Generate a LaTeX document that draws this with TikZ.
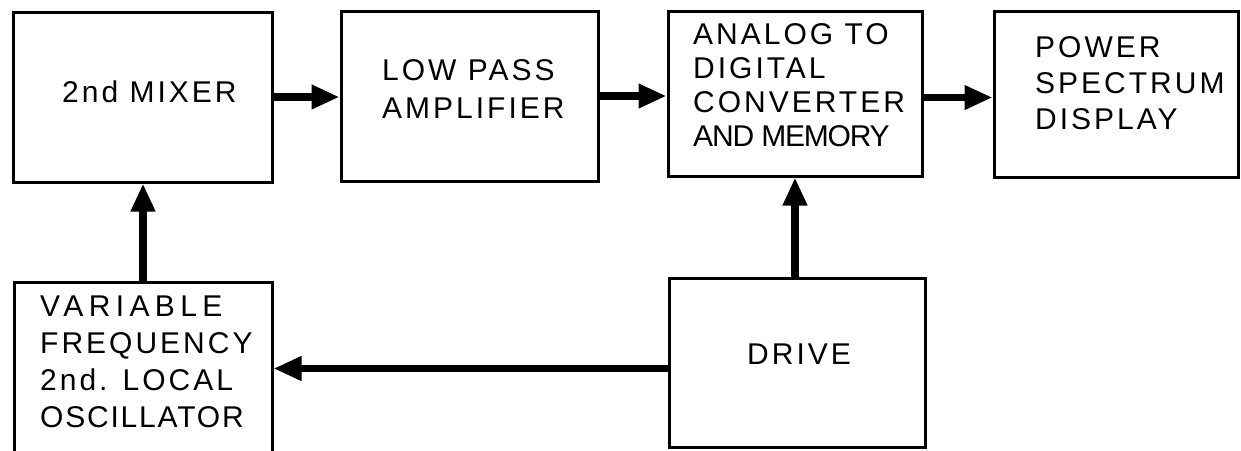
\documentclass[tikz,border=0pt]{standalone}
\usepackage{fontspec}
\setmainfont{Liberation Sans}[LetterSpace=10]
\usetikzlibrary{arrows.meta}
\newcommand{\lsp}[2]{{\addfontfeature{LetterSpace=#1}#2}}
\tikzset{
  blk/.style={draw, line width=3pt, rectangle, inner sep=0pt},
  lbl/.style={anchor=north west, inner sep=0pt, align=left},
  flow/.style={line width=7.5pt, -{Triangle[length=28pt,width=23pt]}},
}
\begin{document}
\begin{tikzpicture}[x=1pt,y=-1pt]
\useasboundingbox (0,0) rectangle (1241,450);
\clip (0,0) rectangle (1241,450);
% boxes
\node[blk, minimum width=259pt, minimum height=170pt] (mixer) at (142.5,97) {};
\node[blk, minimum width=257pt, minimum height=170pt] (lpa) at (469.5,96) {};
\node[blk, minimum width=254pt, minimum height=165pt] (adc) at (795,93.5) {};
\node[blk, minimum width=244pt, minimum height=166pt] (psd) at (1116,94) {};
\node[blk, minimum width=258pt, minimum height=173pt] (vfo) at (143,368.5) {};
\node[blk, minimum width=256pt, minimum height=169pt] (drive) at (797,362.5) {};
% labels
\node[lbl, font=\fontsize{30}{30}\selectfont] (mixer-t) at (62,80.5) {2nd MIXER};
\node[lbl, font=\fontsize{30}{38}\selectfont] (lpa-t) at (382,59.5) {LOW PASS\\AMPLIFIER};
\node[lbl, font=\fontsize{30}{34}\selectfont] (adc-t) at (693,23) {ANALOG TO\\DIGITAL\\CONVERTER\\\lsp{-4}{AND MEMORY}};
\node[lbl, font=\fontsize{30}{36}\selectfont] (psd-t) at (1035,36.5) {POWER\\SPECTRUM\\DISPLAY};
\node[lbl, font=\fontsize{30}{37}\selectfont] (vfo-t) at (40,295.5) {\lsp{18}{VARIABLE}\\FREQUENCY\\2nd. LOCAL\\\lsp{6}{OSCILLATOR}};
\node[lbl, font=\fontsize{30}{30}\selectfont] (drive-t) at (747,343.5) {DRIVE};
% connectors
\draw[flow] (mixer.east) -- (mixer.east -| lpa.west);
\draw[flow] (lpa.east) -- (lpa.east -| adc.west);
\draw[flow] ([yshift=-4pt]adc.east) -- ([yshift=-4pt]adc.east -| psd.west);
\draw[flow] (vfo.north) -- (vfo.north |- mixer.south);
\draw[flow] (drive.north -| adc.south) -- (adc.south);
\draw[flow] (drive.west |- vfo.east) -- (vfo.east);
\end{tikzpicture}
\end{document}
